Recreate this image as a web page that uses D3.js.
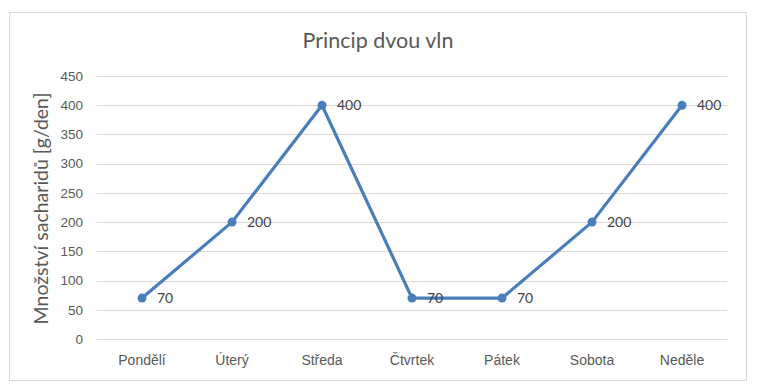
<!DOCTYPE html>
<html><head><meta charset="utf-8">
<script src="https://cdn.jsdelivr.net/npm/d3@7"></script>
<style>body{margin:0;background:#fff}svg{display:block;font-family:Lato,"Open Sans",sans-serif}</style>
</head><body><svg id="c" width="758" height="391"></svg>
<script>
const categories = ["Pondělí","Úterý","Středa","Čtvrtek","Pátek","Sobota","Neděle"];
const values = [70,200,400,70,70,200,400];
const yTicks = [0,50,100,150,200,250,300,350,400,450];
const title = "Princip dvou vln";
const yTitle = "Množství sacharidů [g/den]";

const svg = d3.select("#c");
svg.append("rect").attr("x",9.5).attr("y",12.5).attr("width",737).attr("height",368)
  .attr("fill","#fff").attr("stroke","#d9d9d9");
const m = {l:97,r:727,t:76,b:339};
const x = d3.scaleBand().domain(categories).range([m.l,m.r]);
const y = d3.scaleLinear().domain([0,450]).range([m.b,m.t]);

svg.append("g").selectAll("line").data(yTicks).join("line")
  .attr("x1",m.l).attr("x2",m.r).attr("y1",d=>Math.round(y(d))+0.5).attr("y2",d=>Math.round(y(d))+0.5)
  .attr("stroke","#d9d9d9");
const ya = svg.append("g").attr("transform",`translate(${m.l-14},0)`)
  .call(d3.axisLeft(y).tickValues(yTicks).tickSize(0).tickPadding(0));
ya.select(".domain").remove();
ya.selectAll("text").attr("font-size",13.5).attr("fill","#595959").attr("font-family","inherit");
const xa = svg.append("g").attr("transform",`translate(0,${m.b})`)
  .call(d3.axisBottom(x).tickSize(0).tickPadding(16));
xa.select(".domain").remove();
xa.selectAll("text").attr("font-size",14).attr("fill","#595959").attr("font-family","inherit");

svg.append("text").attr("x",378).attr("y",48).attr("text-anchor","middle")
  .attr("font-size",21.5).attr("fill","#595959").text(title);
svg.append("text").attr("transform",`translate(48,${(m.t+m.b)/2+1}) rotate(-90)`)
  .attr("text-anchor","middle").attr("font-size",19.5).attr("fill","#595959").text(yTitle);

const cx = d=>x(d)+x.bandwidth()/2;
const line = d3.line().x((d,i)=>cx(categories[i])).y(d=>y(d));
svg.append("path").datum(values).attr("d",line).attr("fill","none")
  .attr("stroke","#4a7ebb").attr("stroke-width",3.2).attr("stroke-linejoin","round");
svg.append("g").selectAll("circle").data(values).join("circle")
  .attr("cx",(d,i)=>cx(categories[i])).attr("cy",d=>y(d)).attr("r",4.5).attr("fill","#4a7ebb");
svg.append("g").selectAll("text").data(values).join("text")
  .attr("x",(d,i)=>cx(categories[i])+15).attr("y",d=>y(d)+5)
  .attr("font-size",14).attr("fill","#404040").text(d=>d);
</script></body></html>
